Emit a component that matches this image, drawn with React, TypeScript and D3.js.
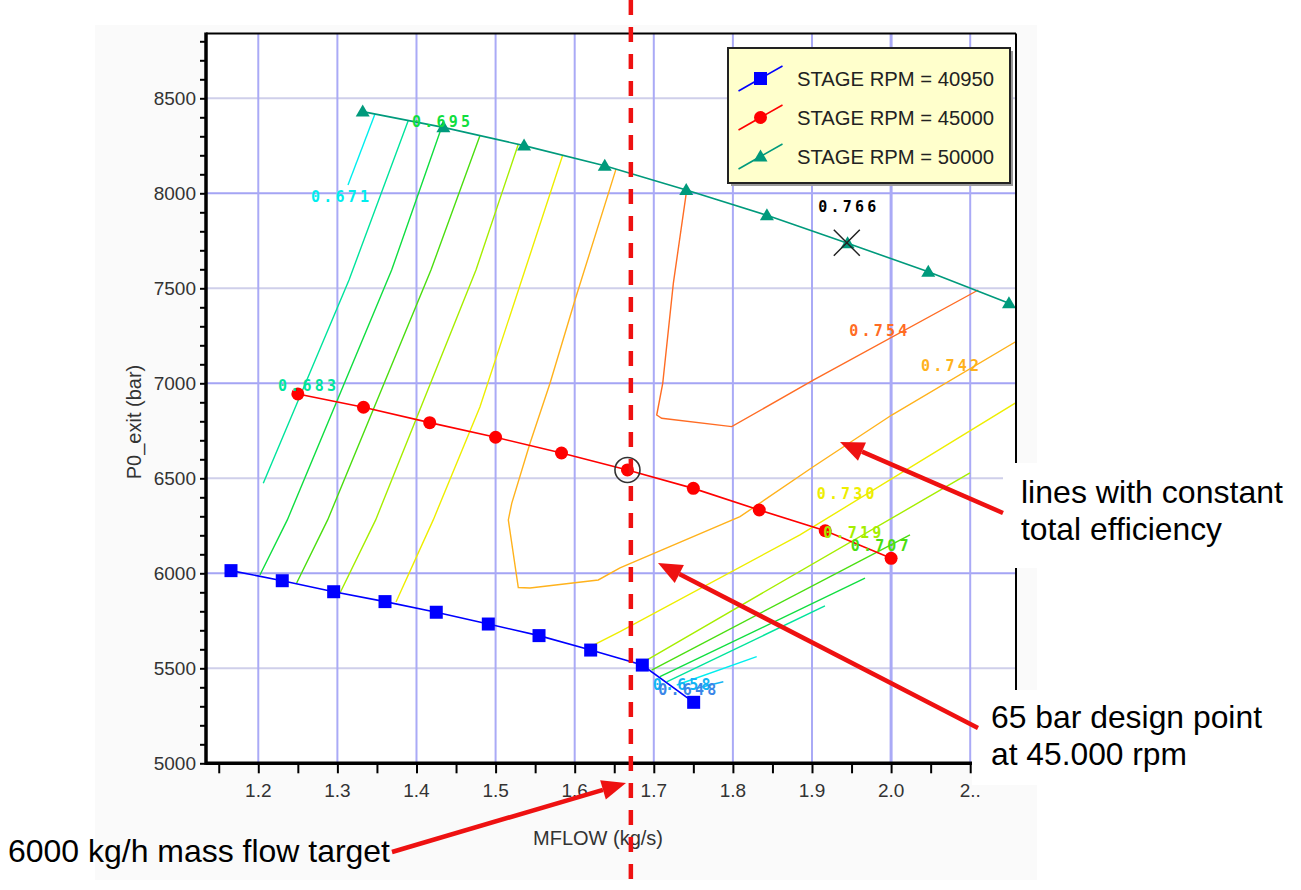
import React, { useRef, useEffect } from 'react';
import * as d3 from 'd3';

// speed lines: MFLOW (kg/s) vs P0_exit
const rpm40950X = [1.1655, 1.2303, 1.2953, 1.3602, 1.425, 1.4908, 1.5549, 1.6202, 1.6855, 1.7504];
const rpm40950Y = [6014, 5961, 5903, 5851, 5795, 5733, 5672, 5596, 5517, 5321];
const rpm45000X = [1.25, 1.333, 1.4167, 1.5, 1.5833, 1.6667, 1.75, 1.8333, 1.9167, 2.0];
const rpm45000Y = [6944, 6874, 6793, 6716, 6633, 6544, 6447, 6333, 6224, 6079];
const rpm50000X = [1.332, 1.434, 1.536, 1.638, 1.741, 1.843, 1.945, 2.047, 2.149];
const rpm50000Y = [8430, 8347, 8251, 8145, 8017, 7884, 7737, 7587, 7421];

const seriesNames = ['STAGE RPM = 40950', 'STAGE RPM = 45000', 'STAGE RPM = 50000'];

// constant total efficiency lines [mflow, p0]
const eff671a = [[1.3475, 8417], [1.3134, 8044]];
const eff683a = [[1.3896, 8383], [1.3147, 7544], [1.2063, 6474]];
const eff695a = [[1.4319, 8349], [1.3686, 7596], [1.2367, 6281], [1.2021, 5991]];
const eff707a = [[1.4803, 8304], [1.4183, 7596], [1.2877, 6281], [1.2485, 5949]];
const eff719a = [[1.5287, 8258], [1.4752, 7596], [1.3484, 6281], [1.3033, 5896]];
const eff730a = [[1.5848, 8200], [1.5372, 7596], [1.4803, 6877], [1.4212, 6281], [1.3741, 5849]];
const eff742 = [[1.6522, 8127], [1.6004, 7438], [1.5688, 7000], [1.5435, 6684], [1.5204, 6368], [1.5161, 6281],
  [1.5287, 5925], [1.5435, 5923], [1.6298, 5965], [1.6573, 6028], [1.809, 6298], [1.9016, 6561], [2.0008, 6833], [2.1579, 7220]];
const eff754 = [[1.7416, 8017], [1.7247, 7526], [1.7113, 7000], [1.7037, 6833], [1.71, 6816], [1.7985, 6772], [1.9016, 7017], [2.1102, 7491]];
const eff730b = [[1.6168, 5607], [1.6573, 5693], [1.8848, 6202], [2.1579, 6898]];
const eff719b = [[1.6867, 5533], [2.0407, 6386], [2.0997, 6528]];
const eff707b = [[1.6973, 5491], [2.0239, 6202]];
const eff695b = [[1.7078, 5456], [1.967, 5974]];
const eff683b = [[1.7163, 5429], [1.9164, 5828]];
const eff671b = [[1.729, 5412], [1.8301, 5561]];
const eff658b = [[1.7542, 5395], [1.7879, 5429]];

const contours = [
  { level: '0.671', pts: eff671a }, { level: '0.683', pts: eff683a }, { level: '0.695', pts: eff695a },
  { level: '0.707', pts: eff707a }, { level: '0.719', pts: eff719a }, { level: '0.730', pts: eff730a },
  { level: '0.742', pts: eff742 }, { level: '0.754', pts: eff754 }, { level: '0.730', pts: eff730b },
  { level: '0.719', pts: eff719b }, { level: '0.707', pts: eff707b }, { level: '0.695', pts: eff695b },
  { level: '0.683', pts: eff683b }, { level: '0.671', pts: eff671b }, { level: '0.658', pts: eff658b },
];

const levelColor: Record<string, string> = {
  '0.648': '#3a86e8', '0.658': '#12b4f4', '0.671': '#00eeee', '0.683': '#00e49c', '0.695': '#10de40',
  '0.707': '#4ade10', '0.719': '#a6ee00', '0.730': '#eeee00', '0.742': '#ffb21c', '0.754': '#ff6c24', '0.766': '#000000',
};

// label, mflow, p0 (text start / baseline)
const effLabels: [string, number, number][] = [
  ['0.671', 1.2666, 7954], ['0.695', 1.3943, 8349], ['0.683', 1.2249, 6959], ['0.754', 1.9472, 7249],
  ['0.742', 2.0378, 7065], ['0.730', 1.9059, 6391], ['0.719', 1.9143, 6186], ['0.707', 1.9489, 6117],
  ['0.766', 1.908, 7902], ['0.658', 1.6986, 5386], ['0.648', 1.7057, 5359],
];

const maxEffPoint = [1.944, 7740];
const designPoint = [1.6667, 6544];
const massFlowTarget = 1.671;

const xTicks = [1.2, 1.3, 1.4, 1.5, 1.6, 1.7, 1.8, 1.9, 2.0, 2.1];
const xTickLabels = ['1.2', '1.3', '1.4', '1.5', '1.6', '1.7', '1.8', '1.9', '2.0', '2..'];
const yTicks = [5000, 5500, 6000, 6500, 7000, 7500, 8000, 8500];

const SANS = '"Liberation Sans", Arial, sans-serif';
const MONO = '"DejaVu Sans Mono", monospace';

export default function App() {
  const svgRef = useRef<SVGSVGElement>(null);

  useEffect(() => {
    document.body.style.margin = '0';
    const svg = d3.select(svgRef.current);
    svg.selectAll('*').remove();

    const left = 206, right = 1016, top = 33.5, bottom = 763.3;
    const x = d3.scaleLinear().domain([1.1339, 2.1579]).range([left, right]);
    const y = d3.scaleLinear().domain([5000, 8841]).range([bottom, top]);

    svg.append('rect').attr('x', 95).attr('y', 25).attr('width', 942).attr('height', 855).attr('fill', '#fafafa');
    svg.append('rect').attr('x', left).attr('y', top).attr('width', right - left).attr('height', bottom - top).attr('fill', '#fff');

    svg.append('defs').append('clipPath').attr('id', 'plotClip')
      .append('rect').attr('x', left).attr('y', top).attr('width', right - left).attr('height', bottom - top);

    // grid
    const grid = svg.append('g');
    grid.selectAll('line.h').data(yTicks.filter(v => v > 5000)).enter().append('line')
      .attr('x1', left).attr('x2', right).attr('y1', d => y(d)).attr('y2', d => y(d))
      .attr('stroke', d => d % 1000 === 0 ? '#a4a4f4' : '#cfcfea').attr('stroke-width', 2);
    grid.selectAll('line.v').data(xTicks).enter().append('line')
      .attr('y1', top).attr('y2', bottom).attr('x1', d => x(d)).attr('x2', d => x(d))
      .attr('stroke', '#aaaaf6').attr('stroke-width', d => d === 2.0 ? 3 : 2);

    const plot = svg.append('g').attr('clip-path', 'url(#plotClip)');
    const line = d3.line<number[]>().x(d => x(d[0])).y(d => y(d[1]));

    plot.selectAll('path.eff').data(contours).enter().append('path')
      .attr('d', d => line(d.pts))
      .attr('fill', 'none').attr('stroke', d => levelColor[d.level]).attr('stroke-width', 1.4);

    const series = [
      { name: seriesNames[0], xs: rpm40950X, ys: rpm40950Y, color: '#0000ff', marker: 'square' },
      { name: seriesNames[1], xs: rpm45000X, ys: rpm45000Y, color: '#ff0000', marker: 'circle' },
      { name: seriesNames[2], xs: rpm50000X, ys: rpm50000Y, color: '#009a7c', marker: 'triangle' },
    ];

    const drawMarker = (g: any, kind: string, cx: number, cy: number, color: string) => {
      if (kind === 'square') {
        g.append('rect').attr('x', cx - 6.5).attr('y', cy - 6.5).attr('width', 13).attr('height', 13).attr('fill', color);
      } else if (kind === 'circle') {
        g.append('circle').attr('cx', cx).attr('cy', cy).attr('r', 6.5).attr('fill', color);
      } else {
        g.append('path').attr('d', `M${cx},${cy - 7}L${cx + 7},${cy + 5}L${cx - 7},${cy + 5}Z`).attr('fill', color);
      }
    };

    series.forEach(s => {
      const pts = s.xs.map((v, i) => [v, s.ys[i]]);
      plot.append('path').attr('d', line(pts)).attr('fill', 'none').attr('stroke', s.color).attr('stroke-width', 1.6);
      pts.forEach(p => drawMarker(plot, s.marker, x(p[0]), y(p[1]), s.color));
    });

    // efficiency labels
    svg.selectAll('text.eff').data(effLabels).enter().append('text')
      .attr('x', d => x(d[1])).attr('y', d => y(d[2]))
      .attr('fill', d => levelColor[d[0]])
      .style('font', `bold 15px ${MONO}`).style('letter-spacing', '3.2px')
      .text(d => d[0]);

    // max efficiency cross
    const mx = x(maxEffPoint[0]), my = y(maxEffPoint[1]);
    svg.append('path').attr('d', `M${mx - 13},${my - 13}L${mx + 13},${my + 13}M${mx + 13},${my - 13}L${mx - 13},${my + 13}`)
      .attr('stroke', '#222').attr('stroke-width', 1.5);

    // design point ring
    svg.append('circle').attr('cx', x(designPoint[0])).attr('cy', y(designPoint[1])).attr('r', 12.5)
      .attr('fill', 'none').attr('stroke', '#333').attr('stroke-width', 1.6);

    // axes
    const yAxisG = svg.append('g').attr('transform', `translate(${left},0)`)
      .call(d3.axisLeft(y).tickValues(d3.range(5000, 8801, 100)).tickSize(6).tickFormat(() => ''));
    yAxisG.select('.domain').remove();
    yAxisG.selectAll('line').attr('stroke', '#000').attr('stroke-width', 2);
    svg.selectAll('text.ytl').data(yTicks).enter().append('text')
      .attr('x', 196).attr('y', d => y(d) + 7).attr('text-anchor', 'end')
      .attr('fill', '#333').style('font', `19px ${SANS}`).text(d => d);

    const xAxisG = svg.append('g').attr('transform', `translate(0,${bottom})`)
      .call(d3.axisBottom(x).tickValues(d3.range(23, 44).map(k => k * 0.05)).tickSize(10).tickFormat(() => ''));
    xAxisG.select('.domain').remove();
    xAxisG.selectAll('line').attr('stroke', '#000').attr('stroke-width', 2);
    svg.selectAll('text.xtl').data(xTicks).enter().append('text')
      .attr('x', d => x(d)).attr('y', 797).attr('text-anchor', 'middle')
      .attr('fill', '#333').style('font', `19px ${SANS}`).text((d, i) => xTickLabels[i]);

    svg.append('line').attr('x1', left).attr('x2', left).attr('y1', top - 1).attr('y2', bottom + 1.5).attr('stroke', '#000').attr('stroke-width', 3.5);
    svg.append('line').attr('x1', left).attr('x2', right).attr('y1', bottom).attr('y2', bottom).attr('stroke', '#000').attr('stroke-width', 3.5);
    svg.append('line').attr('x1', left).attr('x2', right).attr('y1', top).attr('y2', top).attr('stroke', '#000').attr('stroke-width', 2);
    svg.append('line').attr('x1', right).attr('x2', right).attr('y1', top).attr('y2', bottom).attr('stroke', '#000').attr('stroke-width', 2);

    svg.append('text').attr('transform', 'translate(141,422) rotate(-90)').attr('text-anchor', 'middle')
      .attr('fill', '#333').style('font', `20px ${SANS}`).text('P0_exit (bar)');
    svg.append('text').attr('x', 598).attr('y', 845).attr('text-anchor', 'middle')
      .attr('fill', '#333').style('font', `20px ${SANS}`).text('MFLOW (kg/s)');

    // legend
    const lg = svg.append('g');
    lg.append('rect').attr('x', 731).attr('y', 51).attr('width', 282).attr('height', 135).attr('fill', '#999');
    lg.append('rect').attr('x', 728).attr('y', 48).attr('width', 282).attr('height', 135).attr('fill', '#ffffcc')
      .attr('stroke', '#222').attr('stroke-width', 2);
    series.forEach((s, i) => {
      const cy = 78.5 + i * 39, cx = 760.5;
      lg.append('line').attr('x1', cx - 22).attr('y1', cy + 12.5).attr('x2', cx + 22).attr('y2', cy - 12.5)
        .attr('stroke', s.color).attr('stroke-width', 1.6);
      drawMarker(lg, s.marker, cx, cy, s.color);
      lg.append('text').attr('x', 797).attr('y', cy + 7).attr('fill', '#222')
        .attr('textLength', 197).attr('lengthAdjust', 'spacingAndGlyphs')
        .style('font', `20px ${SANS}`).text(s.name);
    });

    // mass flow target
    svg.append('line').attr('x1', x(massFlowTarget)).attr('x2', x(massFlowTarget)).attr('y1', 0).attr('y2', 890)
      .attr('stroke', '#ee1111').attr('stroke-width', 4.5).attr('stroke-dasharray', '15,12');

    // annotation boxes
    svg.append('rect').attr('x', 1003).attr('y', 463).attr('width', 298).attr('height', 105).attr('fill', '#fff');
    svg.append('rect').attr('x', 972).attr('y', 690).attr('width', 329).attr('height', 95).attr('fill', '#fff');

    const arrow = (x1: number, y1: number, x2: number, y2: number) => {
      const a = Math.atan2(y2 - y1, x2 - x1), L = 24, w = 10;
      const bx = x2 - L * Math.cos(a), by = y2 - L * Math.sin(a);
      svg.append('line').attr('x1', x1).attr('y1', y1).attr('x2', bx).attr('y2', by)
        .attr('stroke', '#ee1111').attr('stroke-width', 4.5);
      svg.append('path')
        .attr('d', `M${x2},${y2}L${bx + w * Math.sin(a)},${by - w * Math.cos(a)}L${bx - w * Math.sin(a)},${by + w * Math.cos(a)}Z`)
        .attr('fill', '#ee1111');
    };
    arrow(1003, 513, 840, 442);
    arrow(978, 728, 658, 563);
    arrow(392, 852, 626, 783);

    const note = (t: string, tx: number, ty: number, len: number) =>
      svg.append('text').attr('x', tx).attr('y', ty).attr('fill', '#000')
        .attr('textLength', len).attr('lengthAdjust', 'spacingAndGlyphs')
        .style('font', `32px ${SANS}`).text(t);
    note('lines with constant', 1021, 503, 262);
    note('total efficiency', 1021, 540, 201);
    note('65 bar design point', 991, 728, 271);
    note('at 45.000 rpm', 991, 765, 196);
    note('6000 kg/h mass flow target', 8, 862, 382);
  }, []);

  return <svg ref={svgRef} width={1301} height={890} style={{ display: 'block', background: '#fff' }} />;
}
